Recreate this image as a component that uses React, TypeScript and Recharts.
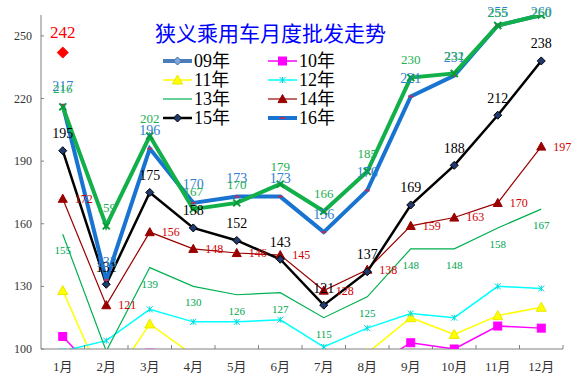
import React from 'react';
import { LineChart, Line, XAxis, YAxis, Legend, LabelList } from 'recharts';

const months = ['1月', '2月', '3月', '4月', '5月', '6月', '7月', '8月', '9月', '10月', '11月', '12月'];
const s09 = [66, 56, 72, 68, 66, 70, 72, 76, 86, 82, 90, 98];
const s10 = [106, 84, 98, 94, 92, 91, 86, 90, 103, 100, 111, 110];
const s11 = [128, 81, 112, 97, 92, 91, 86, 98, 115, 107, 116, 120];
const s12 = [99, 104, 119, 113, 113, 114, 101, 110, 117, 115, 130, 129];
const s13 = [155, 99, 139, 130, 126, 127, 115, 125, 148, 148, 158, 167];
const s14 = [172, 121, 156, 148, 146, 145, 128, 138, 159, 163, 170, 197];
const s15 = [195, 131, 175, 158, 152, 143, 121, 137, 169, 188, 212, 238];
const s16 = [217, 133, 196, 170, 173, 173, 156, 176, 221, 231, 255, 260];
const s16b = [216, 159, 202, 167, 170, 179, 166, 185, 230, 232, 255, 260];
const s17 = [242, null, null, null, null, null, null, null, null, null, null, null];
const yTicks = [100, 130, 160, 190, 220, 250];
const names = { y09: '09年', y10: '10年', y11: '11年', y12: '12年', y13: '13年', y14: '14年', y15: '15年', y16: '16年' };

const data = months.map((m, i) => ({
  month: m,
  y09: s09[i], y10: s10[i], y11: s11[i], y12: s12[i], y13: s13[i],
  y14: s14[i], y15: s15[i], y16: s16[i], y16b: s16b[i], y17: s17[i],
}));

const SERIF = '"Liberation Serif", "Noto Sans CJK SC", serif';

type Kind = 'diamond' | 'square' | 'triangle' | 'star' | 'none' | 'dash' | 'cross';
const STYLE: Record<string, any> = {
  y09: { color: '#4A7EBB', width: 4, marker: 'diamond', mFill: '#7FA6D6', mStroke: '#3D6BA8', r: 4 },
  y10: { color: '#FF00FF', width: 1.5, marker: 'square', mFill: '#FF00FF', mStroke: '#FF00FF', r: 4 },
  y11: { color: '#FFFF00', width: 1.5, marker: 'triangle', mFill: '#FFFF00', mStroke: '#E8E800', r: 5 },
  y12: { color: '#00FFFF', width: 1.5, marker: 'star', mFill: '#00E0E0', mStroke: '#00D8D8', r: 3 },
  y13: { color: '#00B050', width: 1.2, marker: 'none', mFill: '#00B050', mStroke: '#00B050', r: 0 },
  y14: { color: '#990000', width: 1.2, marker: 'triangle', mFill: '#990000', mStroke: '#990000', r: 4.5 },
  y15: { color: '#000000', width: 2.5, marker: 'diamond', mFill: '#1F3A6E', mStroke: '#000000', r: 4 },
  y16: { color: '#1874D0', width: 4, marker: 'dash', mFill: '#B03060', mStroke: '#B03060', r: 2.5 },
  y16b: { color: '#12B04A', width: 4, marker: 'cross', mFill: '#0A9A3A', mStroke: '#0A9A3A', r: 3.5 },
  y17: { color: '#FF0000', width: 1, marker: 'diamond', mFill: '#FF0000', mStroke: '#FF0000', r: 5.5 },
};

function Marker({ kind, cx, cy, r, fill, stroke }: { kind: Kind; cx: number; cy: number; r: number; fill: string; stroke: string }) {
  switch (kind) {
    case 'diamond':
      return <path d={`M${cx},${cy - r}L${cx + r},${cy}L${cx},${cy + r}L${cx - r},${cy}Z`} fill={fill} stroke={stroke} strokeWidth={1} />;
    case 'square':
      return <rect x={cx - r} y={cy - r} width={2 * r} height={2 * r} fill={fill} stroke={stroke} />;
    case 'triangle':
      return <path d={`M${cx},${cy - r}L${cx + r},${cy + r * 0.8}L${cx - r},${cy + r * 0.8}Z`} fill={fill} stroke={stroke} />;
    case 'star':
      return (
        <g stroke={stroke} strokeWidth={1}>
          <line x1={cx - r} y1={cy - r} x2={cx + r} y2={cy + r} />
          <line x1={cx - r} y1={cy + r} x2={cx + r} y2={cy - r} />
          <line x1={cx} y1={cy - r} x2={cx} y2={cy + r} />
        </g>
      );
    case 'dash':
      return <rect x={cx - r} y={cy - 1} width={2 * r} height={2} fill={fill} />;
    case 'cross':
      return (
        <g stroke={stroke} strokeWidth={2}>
          <line x1={cx - r} y1={cy - r} x2={cx + r} y2={cy + r} />
          <line x1={cx - r} y1={cy + r} x2={cx + r} y2={cy - r} />
        </g>
      );
    default:
      return null;
  }
}

const makeDot = (key: string) => (p: any) => {
  const s = STYLE[key];
  if (p == null || p.cx == null || p.cy == null || p.value == null || s.marker === 'none') return <g key={`e${key}${p?.index}`} />;
  return (
    <g key={`d${key}${p.index}`}>
      <Marker kind={s.marker} cx={p.cx} cy={p.cy} r={s.r} fill={s.mFill} stroke={s.mStroke} />
    </g>
  );
};

const makeLabel = (color: string, size: number, dx: number, dy: number, min = 100, minY = 12) => (p: any) => {
  const v = p.value;
  if (v == null || Number(v) < min) return null;
  const px = p.x ?? p.viewBox?.x;
  const py = p.y ?? p.viewBox?.y;
  if (px == null || py == null) return null;
  const x = Number(px) + dx;
  const y = Math.max(Number(py) + dy, minY);
  return (
    <text x={x} y={y} textAnchor="middle" dominantBaseline="central" fontSize={size} fontFamily={SERIF} fill={color}>
      {v}
    </text>
  );
};

const XTick = (p: any) => {
  const { x, y, payload } = p;
  const off = payload?.offset ?? 0;
  return (
    <g>
      <line x1={x + off} x2={x + off} y1={y} y2={y - 4} stroke="#808080" />
      <text x={x} y={y + 17} textAnchor="middle" dominantBaseline="central" fontSize={13} fontFamily={SERIF} fill="#333">
        {payload.value}
      </text>
    </g>
  );
};

const YTick = (p: any) => {
  const { x, y, payload } = p;
  return (
    <g>
      <line x1={x} x2={x + 3} y1={y} y2={y} stroke="#808080" />
      <text x={x - 9} y={y} textAnchor="end" dominantBaseline="central" fontSize={12} fontFamily={SERIF} fill="#333">
        {payload.value}
      </text>
    </g>
  );
};

const order = ['y09', 'y10', 'y11', 'y12', 'y13', 'y14', 'y15', 'y16'];

const renderLegend = (props: any) => {
  const items = (props.payload || []).filter((it: any) => order.includes(it.dataKey));
  return (
    <svg width={250} height={80} style={{ display: 'block', overflow: 'visible' }}>
      {items.map((it: any, i: number) => {
        const s = STYLE[it.dataKey];
        const col = i % 2;
        const row = Math.floor(i / 2);
        const x0 = 3 + col * 105;
        const y0 = 11 + row * 19;
        return (
          <g key={it.dataKey}>
            <line x1={x0} x2={x0 + 29} y1={y0} y2={y0} stroke={s.color} strokeWidth={s.width} />
            <Marker kind={s.marker} cx={x0 + 14.5} cy={y0} r={s.r} fill={s.mFill} stroke={s.mStroke} />
            <text x={x0 + 31} y={y0} dominantBaseline="central" fontSize={18} fontFamily={SERIF} fill="#000">
              {it.value}
            </text>
          </g>
        );
      })}
    </svg>
  );
};

export default function App() {
  return (
    <div style={{ position: 'absolute', left: 0, top: 0, width: 579, height: 376, background: '#fff' }}>
      <LineChart width={579} height={376} data={data} margin={{ top: 15, right: 16, left: 0, bottom: 0 }}>
        <XAxis
          dataKey="month"
          scale="band"
          height={27}
          stroke="#808080"
          tickLine={false}
          tickSize={0}
          tickMargin={0}
          tick={<XTick />}
          interval={0}
        />
        <YAxis
          type="number"
          domain={[100, 260]}
          ticks={yTicks}
          allowDataOverflow
          width={41}
          stroke="#808080"
          tickLine={false}
          tickSize={0}
          tickMargin={0}
          tick={<YTick />}
          interval={0}
        />
        <Legend
          layout="horizontal"
          verticalAlign="middle"
          align="center"
          content={renderLegend}
          wrapperStyle={{ left: 160, top: 50, width: 250, height: 80 }}
        />
        {order.map((k) => {
          const s = STYLE[k];
          return (
            <Line
              key={k}
              dataKey={k}
              name={(names as any)[k]}
              stroke={s.color}
              strokeWidth={s.width}
              dot={makeDot(k)}
              activeDot={false}
              isAnimationActive={false}
              connectNulls={false}
            >
              {k === 'y13' && <LabelList dataKey={k} content={makeLabel('#00A651', 11, 0, 16)} />}
              {k === 'y14' && <LabelList dataKey={k} content={makeLabel('#D00000', 12, 21, 0)} />}
              {k === 'y15' && <LabelList dataKey={k} content={makeLabel('#000000', 14, 0, -17)} />}
              {k === 'y16' && <LabelList dataKey={k} content={makeLabel('#2F80D0', 14, 0, -18)} />}
            </Line>
          );
        })}
        <Line
          dataKey="y16b"
          name="16年b"
          legendType="none"
          stroke={STYLE.y16b.color}
          strokeWidth={STYLE.y16b.width}
          dot={makeDot('y16b')}
          activeDot={false}
          isAnimationActive={false}
        >
          <LabelList dataKey="y16b" content={makeLabel('#20B050', 13, 0, -18)} />
        </Line>
        <Line
          dataKey="y17"
          name="17年"
          legendType="none"
          stroke={STYLE.y17.color}
          strokeWidth={1}
          dot={makeDot('y17')}
          activeDot={false}
          isAnimationActive={false}
        >
          <LabelList dataKey="y17" content={makeLabel('#FF0000', 17, 0, -20)} />
        </Line>
      </LineChart>
      <div
        style={{
          position: 'absolute',
          left: 154,
          top: 22,
          width: 233,
          textAlign: 'center',
          fontSize: 21,
          lineHeight: '21px',
          fontFamily: '"Noto Sans CJK SC", sans-serif',
          color: '#0000FF',
          whiteSpace: 'nowrap',
        }}
      >
        狭义乘用车月度批发走势
      </div>
    </div>
  );
}
